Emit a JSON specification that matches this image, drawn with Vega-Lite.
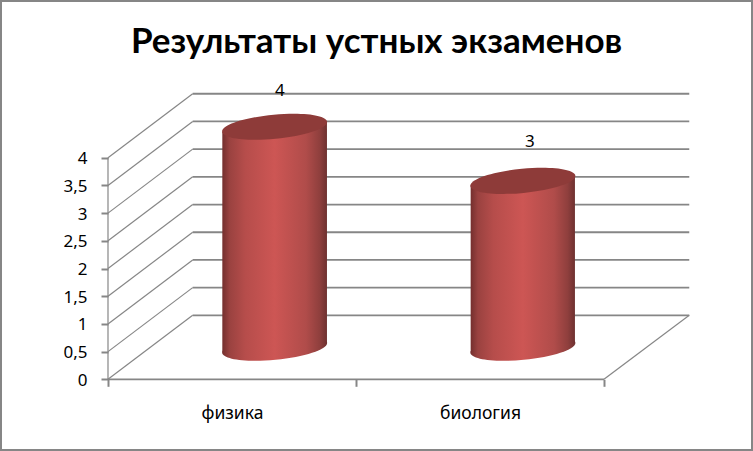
{
"$schema":"https://vega.github.io/schema/vega-lite/v6.json",
"width":753,"height":451,"padding":0,"autosize":{"type":"none"},"background":"white",
"view":{"stroke":"#868686","strokeWidth":4,"fill":"white"},
"title":{"text":"Результаты устных экзаменов","font":"Lato","fontSize":35,"fontWeight":"bold","color":"black","anchor":"middle","offset":-60},
"config":{"font":"Noto Sans"},
"datasets":{
"grid":[
{"x":0,"y":0,"x2":0.3415,"y2":1.155},{"x":0,"y":0.5,"x2":0.3415,"y2":1.655},{"x":0,"y":1,"x2":0.3415,"y2":2.155},{"x":0,"y":1.5,"x2":0.3415,"y2":2.655},{"x":0,"y":2,"x2":0.3415,"y2":3.155},{"x":0,"y":2.5,"x2":0.3415,"y2":3.655},{"x":0,"y":3,"x2":0.3415,"y2":4.155},{"x":0,"y":3.5,"x2":0.3415,"y2":4.655},{"x":0,"y":4,"x2":0.3415,"y2":5.155},
{"x":2,"y":0,"x2":2.344,"y2":1.155},{"x":0,"y":0,"x2":0,"y2":4}],
"back":[
{"x":0.3415,"y":1.155,"x2":2.344},{"x":0.3415,"y":1.655,"x2":2.344},{"x":0.3415,"y":2.155,"x2":2.344},{"x":0.3415,"y":2.655,"x2":2.344},{"x":0.3415,"y":3.155,"x2":2.344},{"x":0.3415,"y":3.655,"x2":2.344},{"x":0.3415,"y":4.155,"x2":2.344},{"x":0.3415,"y":4.655,"x2":2.344},{"x":0.3415,"y":5.155,"x2":2.344},
{"x":0,"y":0,"x2":2}],
"body":[
{"subject":"физика","x":0.461,"top":4.469,"bottom":0.487},
{"subject":"физика","x":0.883,"top":4.65,"bottom":0.65},
{"subject":"биология","x":1.4625,"top":3.507,"bottom":0.487},
{"subject":"биология","x":1.883,"top":3.657,"bottom":0.65}],
"values":[
{"subject":"физика","value":4,"cx":0.672,"top":4.56,"base":0.569,"lx":0.6935,"ly":5.21},
{"subject":"биология","value":3,"cx":1.673,"top":3.582,"base":0.569,"lx":1.7016,"ly":4.289}]
},
"layer":[
{"data":{"name":"grid"},"mark":{"type":"rule","color":"#868686","strokeWidth":1.2},
"encoding":{
"x":{"field":"x","type":"quantitative","scale":{"domain":[-0.4355,2.601],"nice":false,"zero":false},
"axis":{"orient":"bottom","offset":-71.7,"title":null,"grid":false,"domain":false,"values":[0,0.5,1,1.5,2],"tickColor":"#868686","tickSize":7,"tickWidth":2,"tickOpacity":{"condition":{"test":"datum.value==0.5||datum.value==1.5","value":0},"value":1},"labelExpr":"datum.value==0.5?'физика':datum.value==1.5?'биология':''","labelFont":"Noto Sans","labelFontSize":17.5,"labelColor":"black","labelPadding":18,"labelOverlap":false,"labelFlush":false}},
"y":{"field":"y","type":"quantitative","scale":{"domain":[-1.294,6.847],"nice":false,"zero":false},
"axis":{"orient":"left","offset":-108,"title":null,"grid":false,"domain":false,"values":[0,0.5,1,1.5,2,2.5,3,3.5,4],"tickColor":"#868686","tickSize":7,"tickWidth":2,"labelExpr":"replace(''+datum.value,'.',',')","labelFont":"Noto Sans","labelFontSize":17,"labelColor":"black","labelPadding":14,"labelOffset":1,"labelOverlap":false,"labelFlush":false}},
"x2":{"field":"x2"},"y2":{"field":"y2"}}},
{"data":{"name":"back"},"mark":{"type":"rule","color":"#868686","strokeWidth":1.8},
"encoding":{"x":{"field":"x","type":"quantitative"},"y":{"field":"y","type":"quantitative"},"x2":{"field":"x2"}}},
{"data":{"name":"values"},"mark":{"type":"point","filled":true,"opacity":1,"size":4,"strokeWidth":0,"shape":"M-52.5,5A52.5,12,-5.5,1,1,52.5,-5A52.5,12,-5.5,1,1,-52.5,5Z",
"fill":{"gradient":"linear","x1":0,"y1":0,"x2":1,"y2":0,"stops":[{"offset":0,"color":"#742f2e"},{"offset":0.07,"color":"#9a4240"},{"offset":0.22,"color":"#b64d4b"},{"offset":0.5,"color":"#cd5654"},{"offset":0.8,"color":"#b04c4a"},{"offset":0.93,"color":"#8f3f3d"},{"offset":1,"color":"#6e3130"}]}},
"encoding":{"x":{"field":"cx","type":"quantitative"},"y":{"field":"base","type":"quantitative"}}},
{"data":{"name":"body"},"mark":{"type":"area","orient":"vertical","line":false,
"fill":{"gradient":"linear","x1":0,"y1":0,"x2":1,"y2":0,"stops":[{"offset":0,"color":"#742f2e"},{"offset":0.07,"color":"#9a4240"},{"offset":0.22,"color":"#b64d4b"},{"offset":0.5,"color":"#cd5654"},{"offset":0.8,"color":"#b04c4a"},{"offset":0.93,"color":"#8f3f3d"},{"offset":1,"color":"#6e3130"}]}},
"encoding":{"x":{"field":"x","type":"quantitative"},"y":{"field":"top","type":"quantitative","stack":null},"y2":{"field":"bottom"},"detail":{"field":"subject"}}},
{"data":{"name":"values"},"mark":{"type":"point","filled":true,"opacity":1,"size":4,"strokeWidth":0,"color":"#8e3b39","shape":"M-52.5,5A52.5,12,-5.5,1,1,52.5,-5A52.5,12,-5.5,1,1,-52.5,5Z"},
"encoding":{"x":{"field":"cx","type":"quantitative"},"y":{"field":"top","type":"quantitative"}}},
{"data":{"name":"values"},"mark":{"type":"text","font":"Noto Sans","fontSize":17,"color":"black","baseline":"middle","align":"center"},
"encoding":{"x":{"field":"lx","type":"quantitative"},"y":{"field":"ly","type":"quantitative"},"text":{"field":"value"}}}
]
}
